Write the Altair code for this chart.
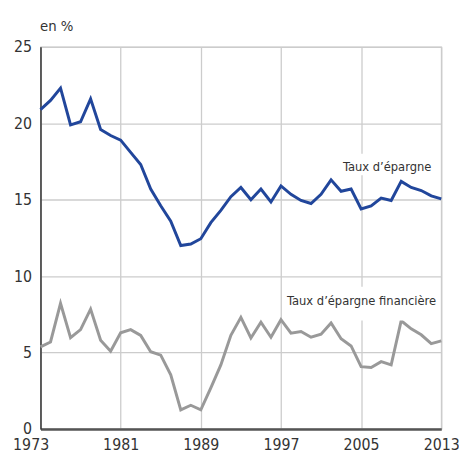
import altair as alt
import pandas as pd

years = list(range(1973, 2014))
taux_epargne = [20.9, 21.5, 22.3, 19.9, 20.1, 21.6, 19.6, 19.2, 18.9, 18.1,
                17.3, 15.7, 14.6, 13.6, 12.0, 12.1, 12.45, 13.5, 14.3, 15.2,
                15.8, 15.0, 15.7, 14.85, 15.9, 15.35, 14.95, 14.75, 15.35, 16.3,
                15.55, 15.7, 14.4, 14.6, 15.1, 14.95, 16.2, 15.8, 15.6, 15.25,
                15.05]
taux_financiere = [5.37, 5.69, 8.22, 5.97, 6.5, 7.84, 5.8, 5.09, 6.29, 6.5,
                   6.12, 5.05, 4.83, 3.54, 1.25, 1.55, 1.25, 2.69, 4.19, 6.13,
                   7.3, 5.95, 6.98, 6.0, 7.15, 6.27, 6.38, 6.0, 6.2, 6.93,
                   5.9, 5.43, 4.08, 4.02, 4.4, 4.19, 7.08, 6.55, 6.16, 5.58,
                   5.76]

series_names = ["Taux d’épargne", "Taux d’épargne financière"]
series_colors = ["#21469b", "#999999"]

label_text = series_names
label_year = [2007.6, 2005.05]
label_value = [16.85, 8.09]
box_year = [2004.6, 1997.4]
box_year2 = [2011.0, 2012.5]
box_value = [16.6, 7.1]
box_value2 = [18.0, 9.3]

x_ticks = [1973, 1981, 1989, 1997, 2005, 2013]
y_ticks = [0, 5, 10, 15, 20, 25]

FONT = "DejaVu Sans Condensed, Liberation Sans Narrow, sans-serif"

df = pd.DataFrame({
    "annee": years * 2,
    "valeur": taux_epargne + taux_financiere,
    "serie": [series_names[0]] * len(years) + [series_names[1]] * len(years),
})
labels = pd.DataFrame({"texte": label_text, "annee": label_year, "valeur": label_value})
boxes = pd.DataFrame({"a1": box_year, "a2": box_year2, "v1": box_value, "v2": box_value2})

xscale = alt.Scale(domain=[1973, 2013], nice=False, zero=False)
yscale = alt.Scale(domain=[0, 25], nice=False)

x_axis = alt.Axis(
    values=x_ticks, format="d", title=None, ticks=False,
    labelFont=FONT, labelFontSize=16, labelColor="#333333", labelPadding=8,
    labelFlush=False,
    labelOffset={"condition": {"test": "datum.value == 1973", "value": -10}, "value": 0},
    domainColor="#555555", domainWidth=2.5,
    gridColor="#cccccc", gridWidth=1.3,
)
y_axis = alt.Axis(
    values=y_ticks, title="en %", titleAngle=0, titleAlign="left",
    titleBaseline="alphabetic", titleX=-1, titleY=-17,
    titleFont=FONT, titleFontSize=15, titleFontWeight="normal", titleColor="#333333",
    ticks=False, labelFont=FONT, labelFontSize=16, labelColor="#333333", labelPadding=9,
    domainColor="#333333", domainWidth=1.5,
    gridColor="#cccccc", gridWidth=1.3,
)

lines = alt.Chart(df).mark_line(strokeWidth=3, strokeJoin="miter").encode(
    x=alt.X("annee:Q", scale=xscale, axis=x_axis),
    y=alt.Y("valeur:Q", scale=yscale, axis=y_axis),
    color=alt.Color("serie:N", scale=alt.Scale(domain=series_names, range=series_colors), legend=None),
)

rects = alt.Chart(boxes).mark_rect(color="white").encode(
    x=alt.X("a1:Q", scale=xscale), x2="a2:Q",
    y=alt.Y("v1:Q", scale=yscale), y2="v2:Q",
)

texts = alt.Chart(labels).mark_text(
    font=FONT, fontSize=13, color="#333333", align="center", baseline="alphabetic"
).encode(
    x=alt.X("annee:Q", scale=xscale),
    y=alt.Y("valeur:Q", scale=yscale),
    text="texte:N",
)

chart = alt.layer(lines, rects, texts).properties(
    width=407, height=388,
    padding={"left": 33, "top": 36, "right": 18, "bottom": 25},
    autosize=alt.AutoSizeParams(type="none"),
).configure_view(stroke="#cccccc", strokeWidth=1.3)

chart.save("out.html", embed_options={"renderer": "svg", "actions": False})
